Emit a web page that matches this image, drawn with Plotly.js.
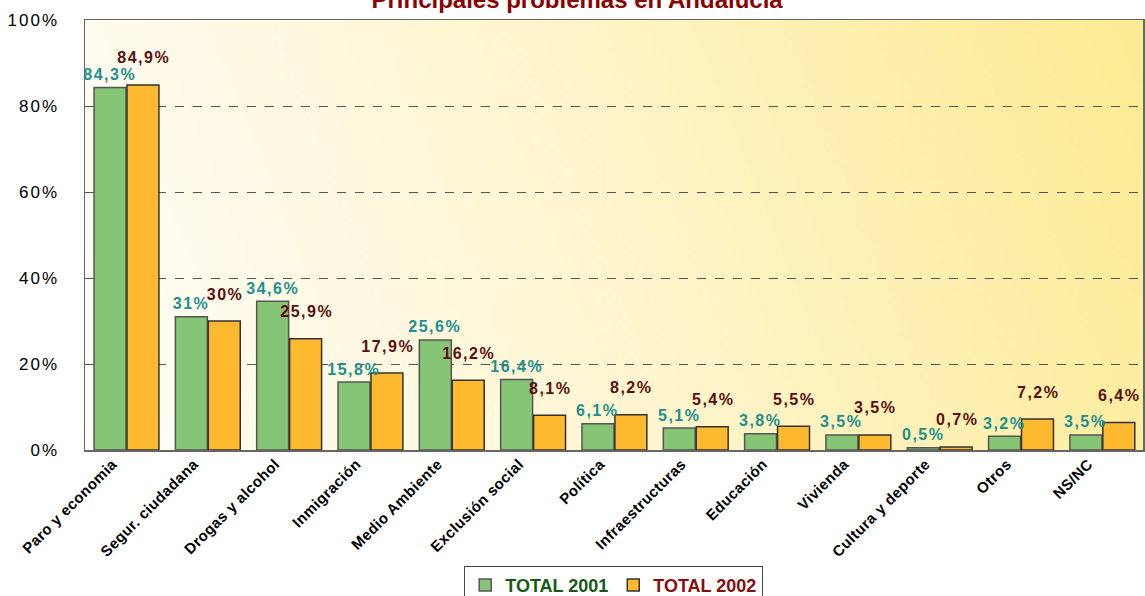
<!DOCTYPE html>
<html>
<head>
<meta charset="utf-8">
<script src="https://cdn.plot.ly/plotly-3.0.1.min.js"></script>
<style>
html,body{margin:0;padding:0;background:#fff;}
#chart{width:1145px;height:596px;}
.infolayer .annotation-text{letter-spacing:1.5px;}
.ytick text{letter-spacing:2px;}
.xtick text{letter-spacing:0.4px;}
</style>
</head>
<body>
<div id="chart"></div>
<script>
const categories = ["Paro y economia","Segur. ciudadana","Drogas y alcohol","Inmigración","Medio Ambiente","Exclusión social","Política","Infraestructuras","Educación","Vivienda","Cultura y deporte","Otros","NS/NC"];
const total2001 = [84.3,31,34.6,15.8,25.6,16.4,6.1,5.1,3.8,3.5,0.5,3.2,3.5];
const total2002 = [84.9,30,25.9,17.9,16.2,8.1,8.2,5.4,5.5,3.5,0.7,7.2,6.4];
const labels2001 = ["84,3%","31%","34,6%","15,8%","25,6%","16,4%","6,1%","5,1%","3,8%","3,5%","0,5%","3,2%","3,5%"];
const labels2002 = ["84,9%","30%","25,9%","17,9%","16,2%","8,1%","8,2%","5,4%","5,5%","3,5%","0,7%","7,2%","6,4%"];
const yTicks = [0,20,40,60,80,100];

function gradientURL(){
  const c = document.createElement('canvas');
  c.width = 400; c.height = 160;
  const g = c.getContext('2d');
  const gr = g.createLinearGradient(0,160,400,0);
  gr.addColorStop(0,'#fffefa');
  gr.addColorStop(0.45,'#fff6d2');
  gr.addColorStop(1,'#fdeb92');
  g.fillStyle = gr; g.fillRect(0,0,400,160);
  return c.toDataURL('image/png');
}

const teal = '#1e8f8f';
const maroon = '#5a0f0f';
const annotations = [];
categories.forEach((c,i)=>{
  annotations.push({x:c, y:total2001[i], xref:'x', yref:'y', text:labels2001[i], showarrow:false,
    xshift:-17, yshift:13, font:{family:'Liberation Sans, Arial', size:16, color:teal, weight:'bold'}});
  annotations.push({x:c, y:total2002[i], xref:'x', yref:'y', text:labels2002[i], showarrow:false,
    xshift:17, yshift:27, font:{family:'Liberation Sans, Arial', size:16, color:maroon, weight:'bold'}});
});

const data = [
  {type:'bar', x:categories, y:total2001, name:'<span style="color:#145a14">TOTAL 2001</span>',
   marker:{color:'#86c476', line:{color:'#555555', width:1.5}}, hoverinfo:'none'},
  {type:'bar', x:categories, y:total2002, name:'<span style="color:#8b0a0a">TOTAL 2002</span>',
   marker:{color:'#ffb92e', line:{color:'#333333', width:1.5}}, hoverinfo:'none'}
];

const layout = {
  width:1145, height:596,
  margin:{l:85, r:2, t:20, b:146},
  paper_bgcolor:'#ffffff',
  plot_bgcolor:'rgba(0,0,0,0)',
  barmode:'group', bargap:0.19, bargroupgap:0.03,
  title:{text:'Principales problemas en Andalucía', x:0.504, xref:'container', xanchor:'center',
    y:1, yref:'container', yanchor:'middle',
    font:{family:'Liberation Sans, Arial', size:24, color:'#8b0000', weight:'bold'}},
  xaxis:{type:'category', tickangle:-45, showline:true, linecolor:'#666', linewidth:1.5, mirror:true,
    ticks:'', showgrid:false, ticklabelshift:-14, ticklabelstandoff:-2,
    tickfont:{family:'Liberation Sans, Arial', size:15, color:'#000', weight:'bold'}},
  yaxis:{range:[0,100], tickvals:yTicks, ticktext:yTicks.map(v=>v+'%'), showline:true, linecolor:'#666', linewidth:1.5, mirror:true,
    showgrid:true, gridcolor:'#555', griddash:'dash', gridwidth:1, zeroline:false, ticks:'', ticklabelstandoff:21,
    tickfont:{family:'Liberation Sans, Arial', size:17, color:'#000'}},
  showlegend:true,
  legend:{orientation:'h', x:0.536, xref:'container', xanchor:'center', y:0.018, yref:'container', yanchor:'middle',
    bgcolor:'#ffffff', bordercolor:'#444', borderwidth:1, itemwidth:30,
    font:{family:'Liberation Sans, Arial', size:18, weight:'bold'}},
  annotations:annotations,
  images:[{source:gradientURL(), xref:'paper', yref:'paper', x:0, y:1, sizex:1, sizey:1, sizing:'stretch', layer:'below', xanchor:'left', yanchor:'top'}]
};

Plotly.newPlot('chart', data, layout, {displayModeBar:false, staticPlot:true});
</script>
</body>
</html>
